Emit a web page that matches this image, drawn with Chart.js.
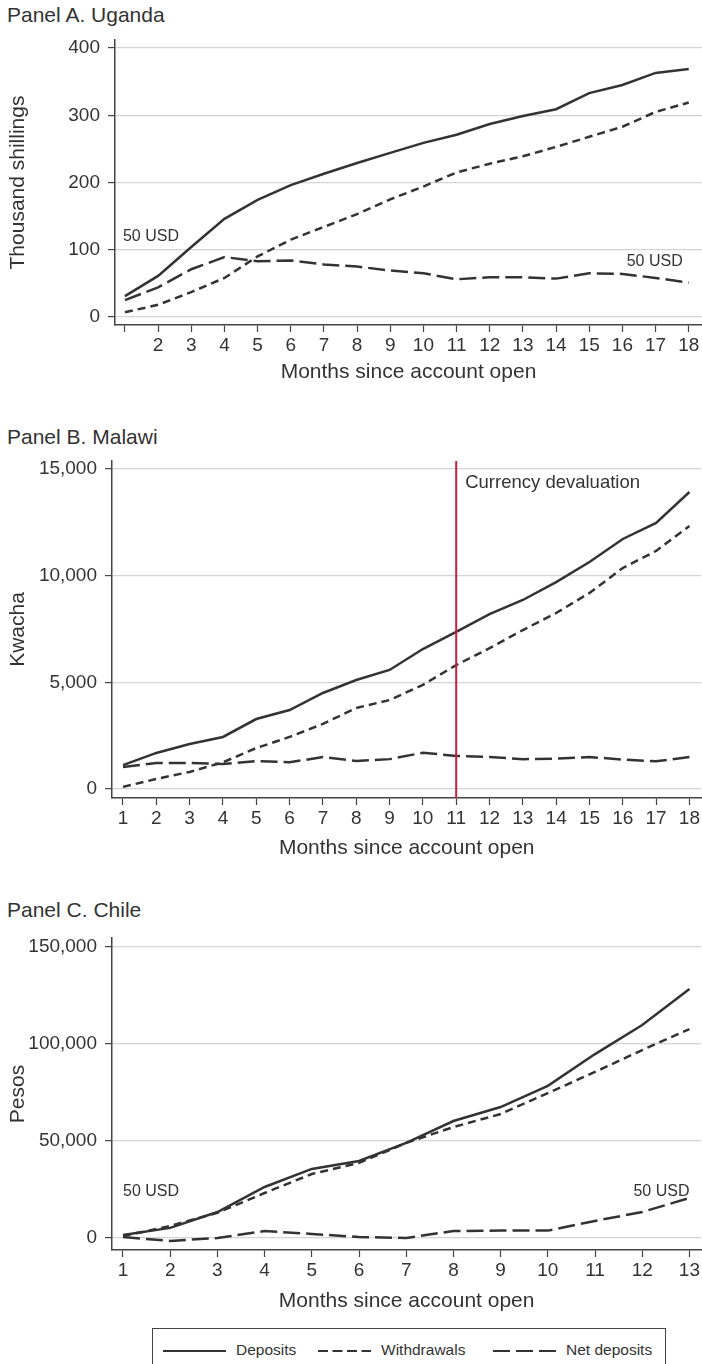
<!DOCTYPE html>
<html lang="en">
<head>
<meta charset="UTF-8">
<title>Deposits and withdrawals since account opening</title>
<script src="https://cdn.jsdelivr.net/npm/chart.js@4.4.0/dist/chart.umd.min.js"></script>
<style>
    body {
        margin: 0;
        background: #fff;
        font-family: 'Liberation Sans', Arial, sans-serif;
        color: #333;
    }
    #page { position: relative; width: 702px; height: 1364px; overflow: hidden; }
    .panel-title { position: absolute; left: 7px; font-size: 21px; line-height: 24px; }
    .chart-box { position: absolute; left: 0; }
    #legend {
        position: absolute; left: 152px; top: 1328px; width: 514px; height: 50px;
        border: 1px solid #444; box-sizing: border-box;
    }
    .leg-line { position: absolute; top: 20px; }
    .leg-text { position: absolute; top: 11px; font-size: 15.5px; line-height: 20px; }
</style>
</head>
<body>
<div id="page">
    <div class="panel-title" style="top:3px">Panel A. Uganda</div>
    <div class="chart-box" style="top:30px"><canvas id="chartA" width="702" height="355"></canvas></div>

    <div class="panel-title" style="top:425px">Panel B. Malawi</div>
    <div class="chart-box" style="top:451px"><canvas id="chartB" width="702" height="410"></canvas></div>

    <div class="panel-title" style="top:898px">Panel C. Chile</div>
    <div class="chart-box" style="top:928px"><canvas id="chartC" width="702" height="386"></canvas></div>

    <div id="legend"></div>
</div>
<script>
    // series names (legend)
    const seriesNames = ['Deposits', 'Withdrawals', 'Net deposits'];

    // Panel A: Uganda, thousand shillings
    const ugMonths = [1, 2, 3, 4, 5, 6, 7, 8, 9, 10, 11, 12, 13, 14, 15, 16, 17, 18];
    const ugDeposits = [31, 61, 104, 146, 174, 196, 213, 229, 244, 259, 271, 287, 299, 309, 333, 345, 363, 369];
    const ugWithdrawals = [7, 18, 37, 58, 90, 115, 134, 153, 175, 194, 215, 228, 239, 253, 268, 283, 305, 319];
    const ugNet = [25, 44, 71, 89, 83, 84, 78, 75, 69, 65, 56, 59, 59, 57, 65, 64, 58, 51];
    const ugYTicks = [0, 100, 200, 300, 400];

    // Panel B: Malawi, kwacha
    const mwMonths = [1, 2, 3, 4, 5, 6, 7, 8, 9, 10, 11, 12, 13, 14, 15, 16, 17, 18];
    const mwDeposits = [1120, 1690, 2110, 2440, 3280, 3700, 4500, 5110, 5580, 6560, 7360, 8200, 8860, 9700, 10640, 11720, 12470, 13920];
    const mwWithdrawals = [100, 470, 800, 1250, 1920, 2440, 3050, 3800, 4170, 4880, 5810, 6600, 7450, 8250, 9190, 10360, 11160, 12330];
    const mwNet = [1030, 1220, 1220, 1170, 1310, 1250, 1500, 1310, 1400, 1700, 1550, 1500, 1400, 1420, 1500, 1380, 1300, 1500];
    const mwYTicks = [0, 5000, 10000, 15000];
    const mwDevaluationMonth = 11;

    // Panel C: Chile, pesos
    const clMonths = [1, 2, 3, 4, 5, 6, 7, 8, 9, 10, 11, 12, 13];
    const clDeposits = [1500, 5200, 13400, 26300, 35600, 39700, 49000, 60300, 67500, 78400, 94800, 109800, 128400];
    const clWithdrawals = [1000, 6200, 13000, 23200, 33000, 38700, 49000, 57200, 63900, 74700, 85600, 96900, 107700];
    const clNet = [500, -1500, 0, 3600, 2100, 500, 0, 3600, 3800, 3800, 8800, 13400, 20600];
    const clYTicks = [0, 50000, 100000, 150000];

    const INK = '#333';
    const FONT = "'Liberation Sans', Arial, sans-serif";
    const dashes = [[], [8, 5], [17, 6]];

    function makePanel(id, p) {
        const pts = vals => p.months.map((m, i) => ({ x: m, y: vals[i] }));

        // red reference line and "50 USD" style notes, placed through the scales
        const notesPlugin = {
            id: 'notes',
            afterDatasetsDraw(chart) {
                const { ctx, chartArea, scales: { x, y } } = chart;
                ctx.save();
                if (p.vline != null) {
                    const px = x.getPixelForValue(p.vline);
                    ctx.strokeStyle = '#c8203c';
                    ctx.lineWidth = 2;
                    ctx.beginPath();
                    ctx.moveTo(px, chartArea.top);
                    ctx.lineTo(px, chartArea.bottom);
                    ctx.stroke();
                }
                (p.notes || []).forEach(n => {
                    ctx.font = n.size + 'px ' + FONT;
                    ctx.fillStyle = INK;
                    ctx.textAlign = n.align;
                    ctx.textBaseline = 'middle';
                    ctx.fillText(n.text, x.getPixelForValue(n.x) + (n.dx || 0), y.getPixelForValue(n.y));
                });
                ctx.restore();
            }
        };

        new Chart(document.getElementById(id), {
            type: 'line',
            data: {
                datasets: [p.deposits, p.withdrawals, p.net].map((vals, i) => ({
                    label: seriesNames[i],
                    data: pts(vals),
                    borderColor: INK,
                    borderWidth: 2.5,
                    borderDash: dashes[i],
                    pointRadius: 0,
                    tension: 0,
                    fill: false
                }))
            },
            options: {
                responsive: false,
                animation: false,
                layout: { padding: { top: 10, right: 0, left: 0, bottom: 0 } },
                plugins: { legend: { display: false }, tooltip: { enabled: false } },
                scales: {
                    x: {
                        type: 'linear',
                        min: p.xMin,
                        max: p.xMax,
                        afterBuildTicks: s => { s.ticks = p.months.map(v => ({ value: v })); },
                        afterFit: s => { s.height = p.xAxisH; },
                        grid: { drawOnChartArea: false, tickLength: 7, tickColor: '#444', tickWidth: 1.2 },
                        border: { color: '#444', width: 1.5 },
                        ticks: {
                            font: { family: FONT, size: 19 },
                            color: INK,
                            padding: 2,
                            maxRotation: 0,
                            autoSkip: false,
                            callback: v => (p.hideFirst && v === 1) ? '' : String(v)
                        },
                        title: {
                            display: true,
                            text: 'Months since account open',
                            font: { family: FONT, size: 21 },
                            color: INK,
                            padding: 0
                        }
                    },
                    y: {
                        min: p.yMin,
                        max: p.yMax,
                        afterBuildTicks: s => { s.ticks = p.yTicks.map(v => ({ value: v })); },
                        // fixed axis width; drop the label padding so the plot keeps its height
                        afterFit: s => { s.width = p.yAxisW; s.paddingTop = 0; s.paddingBottom = 0; },
                        grid: { color: '#d4d4d4', lineWidth: 1.2, tickLength: 7, tickColor: '#444' },
                        border: { color: '#444', width: 1.5 },
                        ticks: {
                            font: { family: FONT, size: 19 },
                            color: INK,
                            padding: 8,
                            callback: v => v.toLocaleString('en-US')
                        },
                        title: {
                            display: true,
                            text: p.yTitle,
                            font: { family: FONT, size: 21 },
                            color: INK,
                            padding: { top: 6, bottom: 0 }
                        }
                    }
                }
            },
            plugins: [notesPlugin]
        });
    }

    makePanel('chartA', {
        months: ugMonths, deposits: ugDeposits, withdrawals: ugWithdrawals, net: ugNet,
        yTicks: ugYTicks, yTitle: 'Thousand shillings', hideFirst: true,
        xMin: 0.7, xMax: 18.4, yMin: -12, yMax: 412, yAxisW: 115, xAxisH: 60,
        notes: [
            { text: '50 USD', x: 1, y: 119, align: 'left', size: 16, dx: -2 },
            { text: '50 USD', x: 18, y: 82, align: 'right', size: 16, dx: -6 }
        ]
    });

    makePanel('chartB', {
        months: mwMonths, deposits: mwDeposits, withdrawals: mwWithdrawals, net: mwNet,
        yTicks: mwYTicks, yTitle: 'Kwacha',
        xMin: 0.67, xMax: 18.36, yMin: -422, yMax: 15375, yAxisW: 112, xAxisH: 63,
        vline: mwDevaluationMonth,
        notes: [
            { text: 'Currency devaluation', x: mwDevaluationMonth, y: 14350, align: 'left', size: 18.5, dx: 9 }
        ]
    });

    makePanel('chartC', {
        months: clMonths, deposits: clDeposits, withdrawals: clWithdrawals, net: clNet,
        yTicks: clYTicks, yTitle: 'Pesos',
        xMin: 0.767, xMax: 13.25, yMin: -6190, yMax: 154640, yAxisW: 112, xAxisH: 64,
        notes: [
            { text: '50 USD', x: 1, y: 23700, align: 'left', size: 16 },
            { text: '50 USD', x: 13, y: 23700, align: 'right', size: 16 }
        ]
    });

    // legend box under the panels: [line left, line width, text left] inside the box
    const legend = document.getElementById('legend');
    const legendPos = [[10, 63, 83], [165, 53, 228], [340, 63, 413]];
    const legendDash = [[], [10, 4.5], [17, 6]];
    seriesNames.forEach((name, i) => {
        const [lx, lw, tx] = legendPos[i];
        const dash = legendDash[i].length ? legendDash[i].join(' ') : 'none';
        legend.insertAdjacentHTML('beforeend',
            `<svg class="leg-line" style="left:${lx}px" width="${lw}" height="4">` +
            `<line x1="0" y1="2" x2="${lw}" y2="2" stroke="${INK}" stroke-width="2" stroke-dasharray="${dash}"/></svg>` +
            `<div class="leg-text" style="left:${tx}px">${name}</div>`);
    });
</script>
</body>
</html>
